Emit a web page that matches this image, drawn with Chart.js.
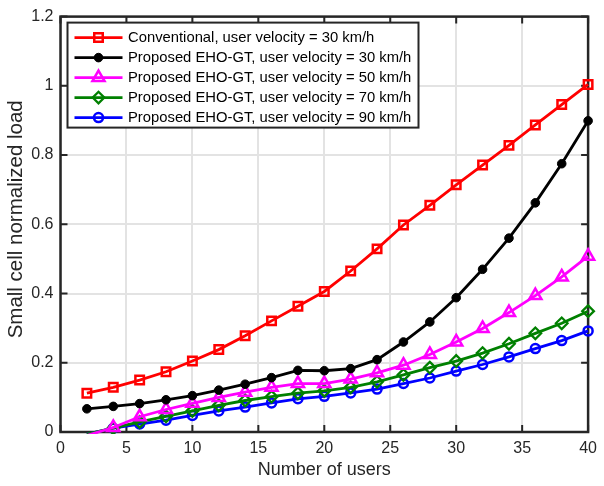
<!DOCTYPE html>
<html>
<head>
<meta charset="utf-8">
<script src="https://cdn.jsdelivr.net/npm/chart.js@4.4.1/dist/chart.umd.min.js"></script>
<style>
  html, body { margin: 0; padding: 0; background: #fff; }
  canvas { display: block; }
</style>
</head>
<body>
<canvas id="chart" width="604" height="486"></canvas>
<script>
// values, x = number of users
const users = [2, 4, 6, 8, 10, 12, 14, 16, 18, 20, 22, 24, 26, 28, 30, 32, 34, 36, 38, 40];
const conventional30 = [0.112, 0.129, 0.150, 0.174, 0.205, 0.238, 0.278, 0.321, 0.363, 0.406,
                        0.465, 0.529, 0.598, 0.655, 0.714, 0.771, 0.828, 0.887, 0.946, 1.004];
const eho30 = [0.067, 0.074, 0.082, 0.093, 0.105, 0.121, 0.138, 0.157, 0.178, 0.177,
               0.183, 0.209, 0.260, 0.318, 0.388, 0.470, 0.560, 0.662, 0.775, 0.899];
const eho50 = [-0.010, 0.013, 0.044, 0.065, 0.083, 0.100, 0.115, 0.129, 0.140, 0.140,
               0.153, 0.171, 0.193, 0.224, 0.260, 0.299, 0.345, 0.394, 0.448, 0.508];
const eho70 = [-0.006, 0.011, 0.029, 0.045, 0.061, 0.077, 0.091, 0.102, 0.112, 0.119,
               0.129, 0.145, 0.165, 0.186, 0.205, 0.228, 0.255, 0.285, 0.314, 0.349];
const eho90 = [-0.006, 0.011, 0.023, 0.034, 0.048, 0.061, 0.072, 0.084, 0.096, 0.103,
               0.113, 0.124, 0.140, 0.156, 0.176, 0.195, 0.217, 0.241, 0.264, 0.292];

const xTicks = { min: 0, max: 40, step: 5 };
const yTicks = { min: 0, max: 1.2, step: 0.2 };
const seriesLabels = [
  'Conventional, user velocity = 30 km/h',
  'Proposed EHO-GT, user velocity = 30 km/h',
  'Proposed EHO-GT, user velocity = 50 km/h',
  'Proposed EHO-GT, user velocity = 70 km/h',
  'Proposed EHO-GT, user velocity = 90 km/h'
];

const FONT = '"Liberation Sans", Arial, Helvetica, sans-serif';
const AXIS_COLOR = '#262626';
const GRID_COLOR = '#e3e3e3';
const HOLLOW = 'rgba(0,0,0,0)';

function series(label, values, color, style, radius, fill, pbw) {
  return {
    label,
    data: users.map((u, i) => ({ x: u, y: values[i] })),
    borderColor: color,
    backgroundColor: color,
    borderWidth: 2.8,
    pointStyle: style,
    // the x = 2 point lies below the axis: MATLAB clips it, so hide its marker
    pointRadius: (c) => (c.raw && c.raw.y < 0 ? 0 : radius),
    pointHoverRadius: radius,
    pointBorderWidth: pbw,
    pointBorderColor: color,
    pointBackgroundColor: fill,
    tension: 0,
    clip: { left: false, top: false, right: false, bottom: 2 }
  };
}

const datasets = [
  series(seriesLabels[0], conventional30, '#ff0000', 'rect', 6, HOLLOW, 2.5),
  series(seriesLabels[1], eho30, '#000000', 'circle', 4.3, '#000000', 1),
  series(seriesLabels[2], eho50, '#ff00ff', 'triangle', 7, HOLLOW, 2.5),
  series(seriesLabels[3], eho70, '#008000', 'rectRot', 5.8, HOLLOW, 2.3),
  series(seriesLabels[4], eho90, '#0000ff', 'circle', 4.5, HOLLOW, 2.5)
];

// axes box with inward ticks on all four sides (drawn under the data)
const frame = {
  id: 'frame',
  beforeDatasetsDraw(chart) {
    const { ctx, chartArea: a, scales: { x, y } } = chart;
    ctx.save();
    ctx.strokeStyle = AXIS_COLOR;
    ctx.lineWidth = 2;
    ctx.beginPath();
    x.ticks.forEach((t) => {
      const px = x.getPixelForValue(t.value);
      ctx.moveTo(px, a.bottom); ctx.lineTo(px, a.bottom - 7);
      ctx.moveTo(px, a.top); ctx.lineTo(px, a.top + 7);
    });
    y.ticks.forEach((t) => {
      const py = y.getPixelForValue(t.value);
      ctx.moveTo(a.left, py); ctx.lineTo(a.left + 7, py);
      ctx.moveTo(a.right, py); ctx.lineTo(a.right - 7, py);
    });
    ctx.stroke();
    ctx.lineWidth = 2.5;
    ctx.strokeRect(a.left, a.top, a.right - a.left, a.bottom - a.top);
    ctx.restore();
  }
};

// legend box in the upper-left corner of the axes
const legendBox = {
  id: 'legendBox',
  afterDraw(chart) {
    const { ctx, chartArea: a } = chart;
    const sets = chart.data.datasets;
    const left = a.left + 7, top = a.top + 6, w = 351, rowH = 20;
    const h = 15 + (sets.length - 1) * rowH + 10;
    ctx.save();
    ctx.fillStyle = '#fff';
    ctx.fillRect(left, top, w, h);
    ctx.strokeStyle = AXIS_COLOR;
    ctx.lineWidth = 2;
    ctx.strokeRect(left, top, w, h);
    ctx.font = '14.8px ' + FONT;
    ctx.textBaseline = 'middle';
    sets.forEach((ds, i) => {
      const cy = top + 15 + i * rowH;
      ctx.strokeStyle = ds.borderColor;
      ctx.lineWidth = ds.borderWidth;
      ctx.beginPath();
      ctx.moveTo(left + 7, cy);
      ctx.lineTo(left + 55, cy);
      ctx.stroke();
      ctx.fillStyle = ds.pointBackgroundColor;
      ctx.lineWidth = ds.pointBorderWidth;
      Chart.helpers.drawPoint(ctx, {
        pointStyle: ds.pointStyle,
        radius: ds.pointHoverRadius,
        rotation: 0,
        borderWidth: ds.pointBorderWidth
      }, left + 31, cy);
      ctx.fillStyle = '#000';
      ctx.fillText(ds.label, left + 60.5, cy + 0.5);
    });
    ctx.restore();
  }
};

// rotated y-axis title
const yTitle = {
  id: 'yTitle',
  afterDraw(chart) {
    const { ctx, chartArea: a } = chart;
    ctx.save();
    ctx.translate(22, (a.top + a.bottom) / 2 - 5);
    ctx.rotate(-Math.PI / 2);
    ctx.font = '20.5px ' + FONT;
    ctx.fillStyle = AXIS_COLOR;
    ctx.textAlign = 'center';
    ctx.textBaseline = 'alphabetic';
    ctx.fillText('Small cell normalized load', 0, 0);
    ctx.restore();
  }
};

new Chart(document.getElementById('chart'), {
  type: 'line',
  data: { datasets },
  options: {
    responsive: false,
    animation: false,
    layout: { padding: { left: 0, right: 8.5, top: 10, bottom: 0 } },
    plugins: { legend: { display: false }, tooltip: { enabled: false } },
    scales: {
      x: {
        type: 'linear',
        min: xTicks.min,
        max: xTicks.max,
        ticks: { stepSize: xTicks.step, color: AXIS_COLOR, font: { family: FONT, size: 16 }, padding: 7, maxRotation: 0 },
        grid: { color: GRID_COLOR, lineWidth: 2, drawTicks: false },
        border: { display: false },
        title: {
          display: true,
          text: 'Number of users',
          color: AXIS_COLOR,
          font: { family: FONT, size: 18 },
          padding: { top: 0, bottom: 5 }
        },
        afterFit(scale) { scale.height = 54; }
      },
      y: {
        min: yTicks.min,
        max: yTicks.max,
        ticks: {
          stepSize: yTicks.step,
          color: AXIS_COLOR,
          font: { family: FONT, size: 16 },
          padding: 7,
          callback: (v) => String(Number(v.toFixed(2)))
        },
        grid: { color: GRID_COLOR, lineWidth: 2, drawTicks: false },
        border: { display: false },
        afterFit(scale) { scale.width = 60.5; }
      }
    }
  },
  plugins: [frame, legendBox, yTitle]
});
</script>
</body>
</html>
